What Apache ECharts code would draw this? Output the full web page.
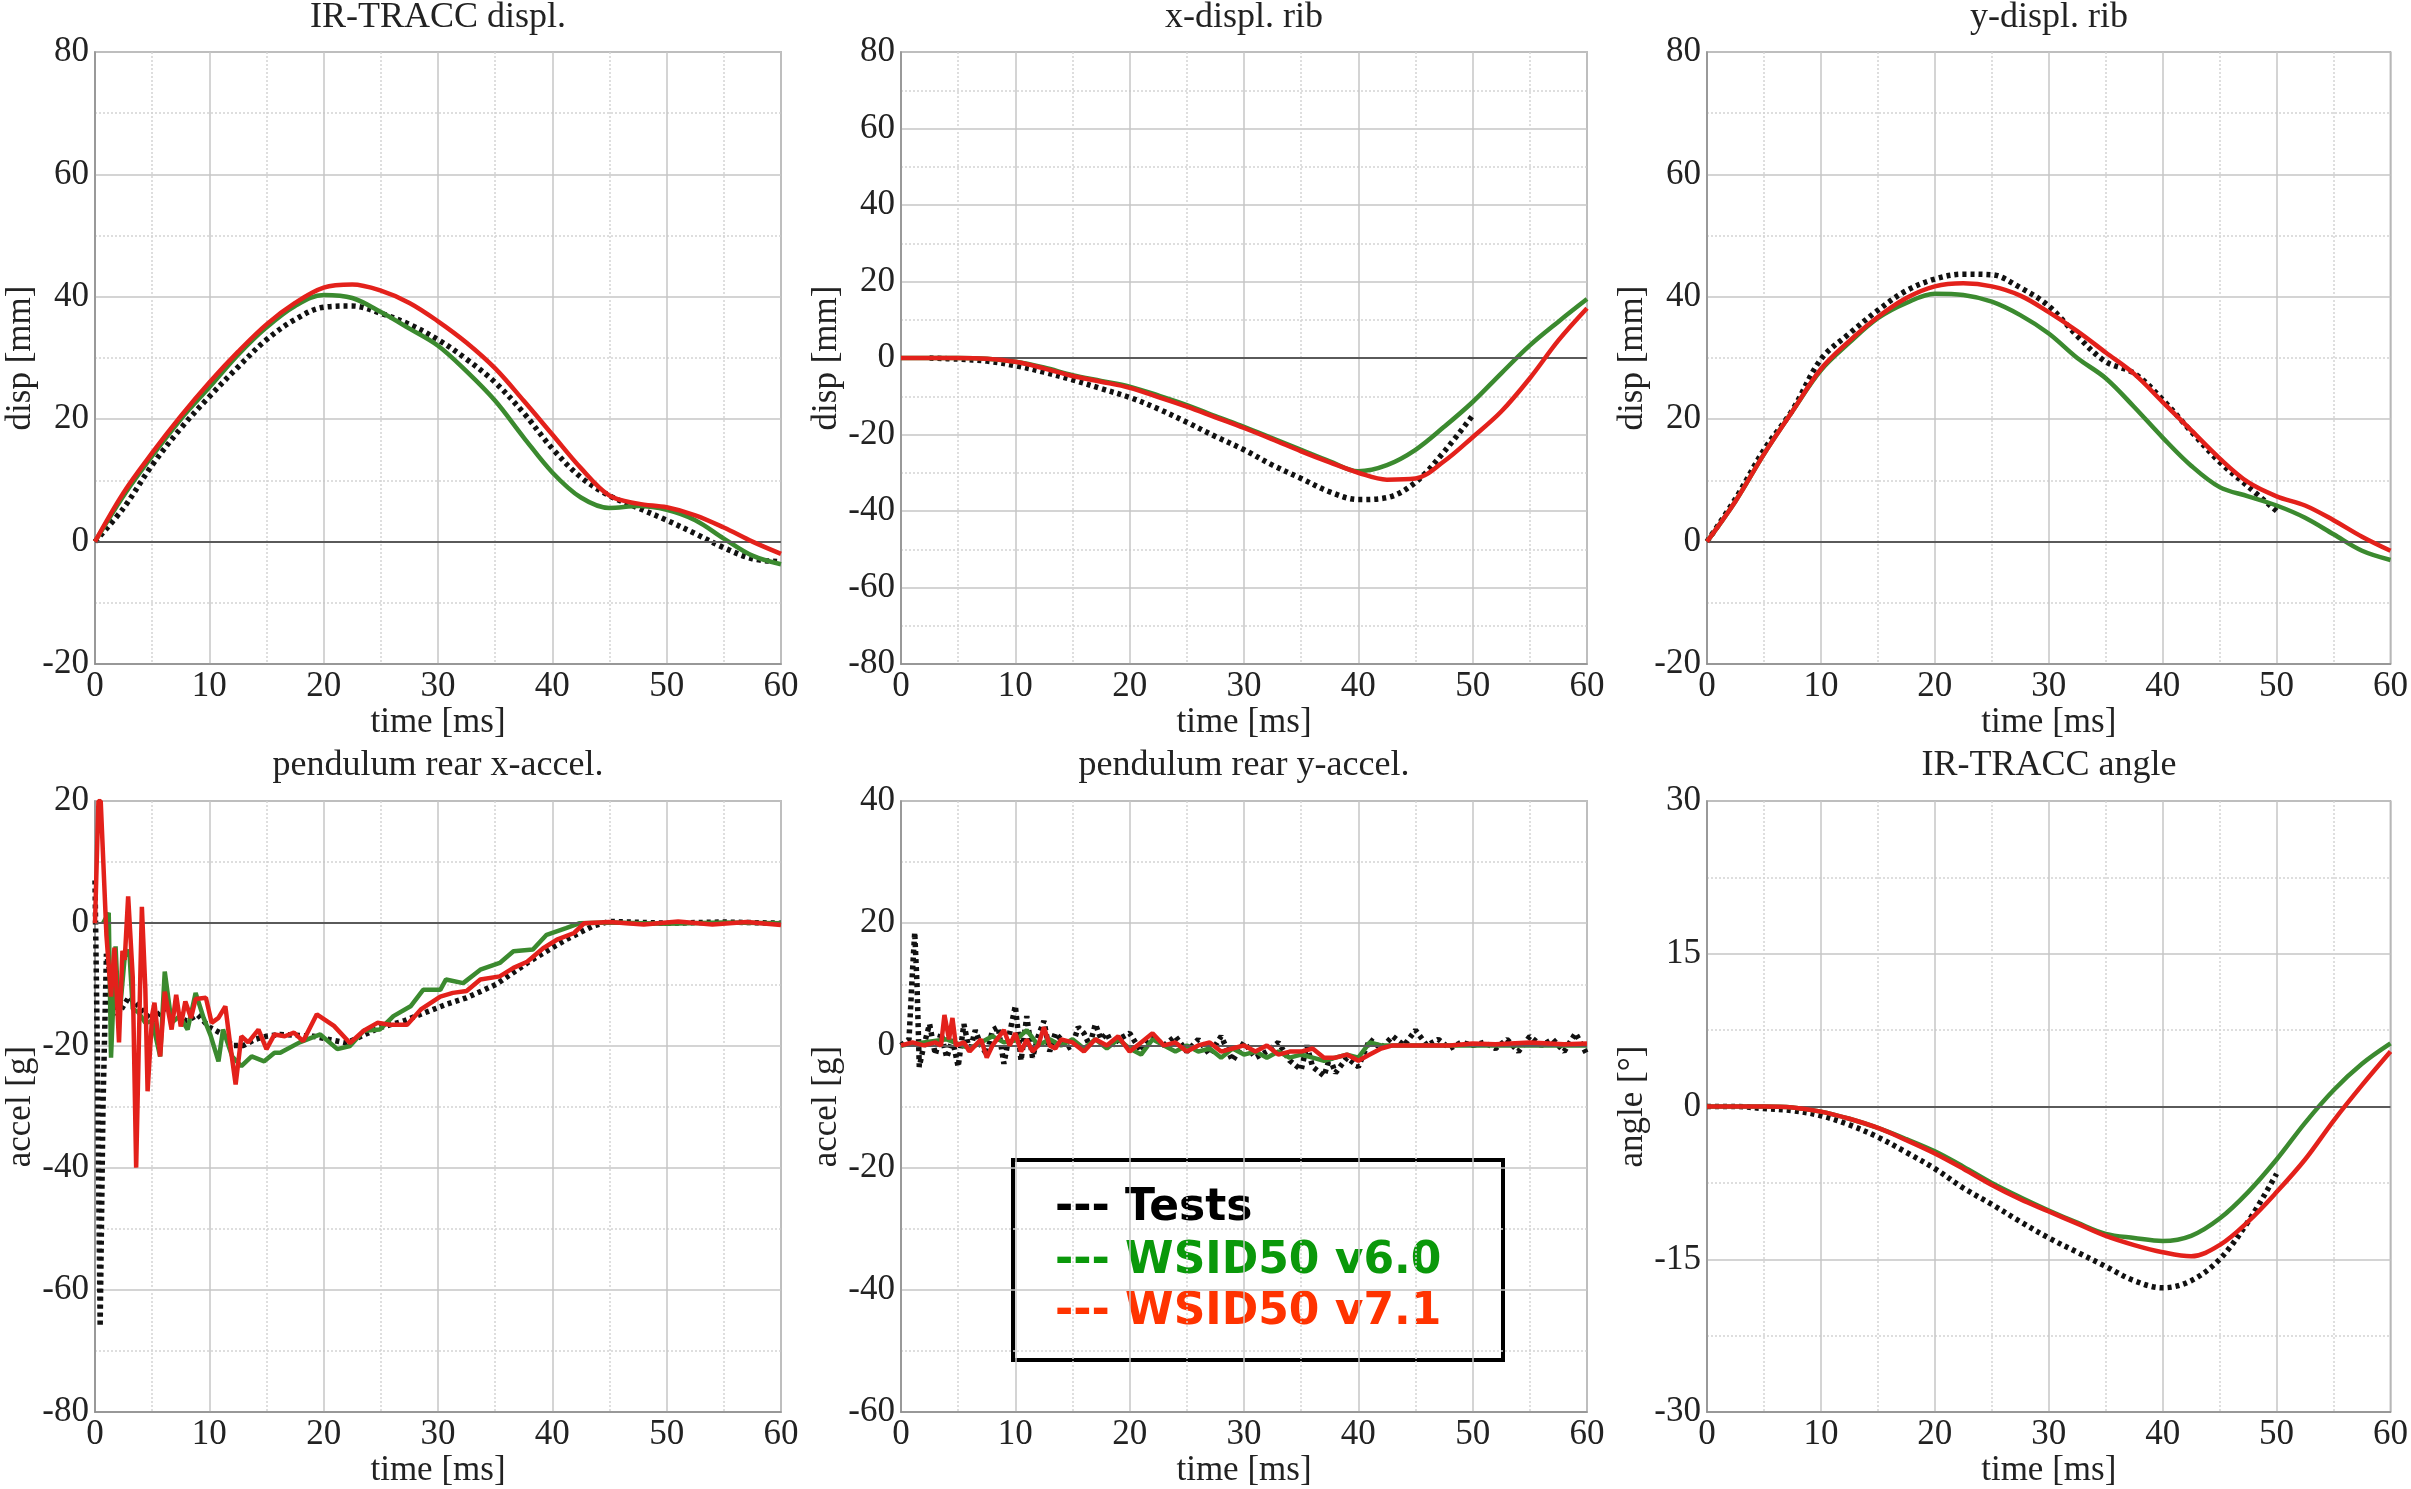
<!DOCTYPE html>
<html><head><meta charset="utf-8">
<script src="https://cdn.jsdelivr.net/npm/echarts@6/dist/echarts.min.js"></script>
<style>html,body{margin:0;padding:0;background:#fff}#c{width:2411px;height:1489px}</style>
</head><body><div id="c"></div>
<script>
// ---------- DATA ----------
const panelTitles = ['IR-TRACC displ.', 'x-displ. rib', 'y-displ. rib', 'pendulum rear x-accel.', 'pendulum rear y-accel.', 'IR-TRACC angle'];
const yNames = ['disp [mm]', 'disp [mm]', 'disp [mm]', 'accel [g]', 'accel [g]', 'angle [°]'];
const xName = 'time [ms]';
const seriesNames = ['Tests', 'WSID50 v6.0', 'WSID50 v7.1'];

// sample times (ms) for the smooth curves
const T = [0,2.5,5,7.5,10,12.5,15,17.5,20,22.5,25,27.5,30,32.5,35,37.5,40,42.5,45,47.5,50,52.5,55,57.5,60];

// IR-TRACC displ.
const irdTest  = [0,5.5,12.5,18.5,23.7,28.5,33,36.3,38.3,38.5,37.3,35.5,33,29.8,26,21,15.2,10.5,7.5,5.5,3.5,1.3,-1,-2.8,-3.3];
const irdGreen = [0,7.5,14,20,25.2,30.5,35,38.5,40.3,39.8,37.5,34.8,32,27.8,23,17,11.3,7.2,5.5,5.8,5.2,3.5,0.5,-2.3,-3.7];
const irdRed   = [0,8,14.5,20.5,26,31,35.5,39,41.5,42,41,39,36,32.5,28.3,23,17.5,12,7.5,6.2,5.6,4.3,2.3,0,-2];

// x-displ. rib (tests from 2.5 to 50 ms)
const xrTestT  = [2.5,5,7.5,10,12.5,15,17.5,20,22.5,25,27.5,30,32.5,35,37.5,40,42.5,45,47.5,50];
const xrTest   = [0,-0.3,-0.8,-2,-3.7,-5.7,-8,-10.3,-13.3,-16.8,-20.5,-24,-28,-31.5,-35,-37,-36.5,-32.5,-24.5,-15];
const xrGreen  = [0,0,0,-0.2,-1,-2.5,-4.5,-6,-7.5,-9.8,-12.3,-15.2,-18,-21,-24,-27,-29.6,-28,-24,-18,-11.5,-4,3.3,9.5,15.4];
const xrRed    = [0,0,0,-0.2,-1,-2.7,-4.7,-6.2,-7.8,-10.2,-12.7,-15.5,-18.3,-21.3,-24.4,-27.3,-30,-31.8,-31.5,-27,-20.7,-14,-5.3,4.6,13];

// y-displ. rib (tests 0 to 50 ms)
const yrTest   = [0,7,15,21.5,29.8,34,37.8,41,42.9,43.7,43.6,41.5,38.5,33.6,29.4,27.5,23.2,18,13,9,5];
const yrGreen  = [0,6.6,14.3,21.3,28,32.5,36.5,39,40.5,40.3,39.2,37,34,30,26.7,22,17,12.4,8.9,7.4,5.9,3.9,1.2,-1.5,-3];
const yrRed    = [0,6.6,14.3,21.3,28.2,32.8,36.7,39.8,41.7,42.2,41.7,40.2,37.5,34.4,30.9,27.4,22.8,18.2,13.6,9.7,7.4,5.9,3.5,0.8,-1.5];

// pendulum rear x-accel. [time, g]
const xaTest = [[0,7],[0.2,-20],[0.45,-66],[0.7,-30],[1.0,-5],[1.5,-10],[2,-15],[3,-12],[4,-14],[5,-16],[6,-14],[7,-15],[8,-16],[9,-15],[10,-17],[11,-18],[12,-20],[13,-20],[14,-19],[15,-18.5],[16.2,-18.2],[19.1,-18.5],[22,-19.6],[24.9,-17.1],[27,-16],[28.5,-14.9],[30.7,-13.3],[32.5,-12.2],[35.1,-10],[37.8,-6.5],[39.2,-4.9],[41.2,-2.7],[43.5,-0.5],[45,0.3],[50,0],[55,0.2],[60,0]];
const xaGreen = [[0.7,0],[1.2,1.7],[1.4,-22],[1.8,-3.8],[2.1,-16],[2.6,-5.5],[3.0,-4.4],[3.3,-14],[3.8,-14.6],[4.4,-16.3],[5.0,-16],[5.7,-21.8],[6.1,-7.9],[6.7,-16.3],[7.4,-15.2],[8.1,-17.4],[8.8,-11.4],[9.5,-15.5],[10.1,-18.3],[10.8,-22.6],[11.2,-17.4],[12.0,-21.8],[12.8,-23.4],[13.7,-21.8],[14.8,-22.6],[15.7,-21.2],[16.2,-21.2],[17.9,-19.5],[19.7,-18.2],[21.2,-20.6],[22.3,-20.1],[23.5,-17.6],[24.9,-17.4],[26.1,-15.2],[27.6,-13.6],[28.7,-10.9],[30.2,-10.9],[30.7,-9.2],[32.2,-9.8],[33.7,-7.6],[35.4,-6.5],[36.6,-4.6],[38.3,-4.3],[39.5,-1.9],[41.2,-0.8],[42.4,0],[45,0.1],[50,-0.1],[55,0.1],[60,0]];
const xaRed = [[0,0],[0.3,20],[0.5,20],[1.0,-2],[1.4,-12],[1.7,-4],[2.1,-19.5],[2.4,-4.5],[2.6,-6],[2.9,4.4],[3.3,-8.8],[3.6,-40],[3.9,-14],[4.1,2.7],[4.4,-10.6],[4.6,-27.5],[5.0,-15],[5.2,-13],[5.7,-21.8],[6.1,-11.2],[6.7,-17.4],[7.1,-11.7],[7.5,-16.9],[7.9,-12.8],[8.4,-15.5],[8.8,-12.4],[9.7,-12.2],[10.2,-16.3],[10.8,-15.5],[11.4,-13.6],[11.8,-19.5],[12.3,-26.4],[12.8,-18.5],[13.4,-19.5],[14.3,-17.4],[15.0,-20.6],[15.7,-18.2],[16.6,-18.5],[17.4,-17.9],[18.2,-19.3],[19.4,-14.9],[20.9,-16.8],[22.3,-19.6],[23.5,-17.6],[24.7,-16.3],[25.8,-16.6],[27.3,-16.6],[28.5,-14.1],[30.2,-12],[31.3,-11.4],[32.5,-11.1],[33.7,-9.2],[35.4,-8.7],[36.6,-7.3],[37.8,-6.3],[39.2,-4.1],[40.4,-2.7],[41.9,-1.6],[42.8,0],[45,0.2],[48,-0.2],[51,0.3],[54,-0.2],[57,0.2],[60,-0.3]];

// pendulum rear y-accel. [time, g]
const yaTest = [[0,0],[0.7,1],[1.0,12],[1.2,18.5],[1.4,10],[1.6,-3.5],[2,0],[2.5,3.5],[3,-1.5],[3.5,2],[4,-2],[4.5,1],[5,-3.5],[5.5,3.5],[6,-1],[6.5,2.5],[7,0],[7.5,-1.5],[8,2.5],[8.5,3],[9,-3],[9.5,2],[10,6.5],[10.5,-2.5],[11,4.8],[11.5,-2],[12,1.5],[12.5,4],[13,-1],[13.5,2],[14,1],[14.5,-0.5],[15,0],[15.5,3],[16,2],[16.5,0],[17,3.5],[17.5,1],[18,2],[18.5,0],[19,1],[20,2],[21,-1],[22,1.5],[23,0],[24,1.5],[25,-1],[26,1],[27,-1.5],[28,1.5],[29,-2.5],[30,0.5],[31,-2],[32,-1],[33,0.5],[34,-2.5],[35,-4],[35.5,0],[36,-3.5],[37,-5],[37.5,-2],[38,-4.5],[39,-2],[40,-3.5],[41,1],[42,-0.5],[43,1.5],[44,0],[45,2.5],[46,0],[47,1],[48,-0.5],[49,0.5],[50,0],[51,0.5],[52,-0.5],[53,1],[54,-1],[55,1.5],[56,0],[57,1],[58,-1],[59,2],[60,-1.5]];
const yaGreen = [[0,0],[2,0.5],[4,1],[6,-0.5],[8,1.5],[9,0.5],[10,0.8],[11,2.5],[12,0],[13,1],[14,0],[15,1],[16,-0.5],[17,1],[18,-0.5],[19,1],[20,-0.5],[21,-1.5],[22,1],[23,0],[24,-1],[25,0],[26,-1],[27,-0.5],[28,-2],[29,-0.5],[30,-1.5],[31,-1],[32,-2],[33,-1],[34,-2],[35,-1.5],[36,-2],[37,-2.5],[38,-2],[39,-1.5],[40,-2],[41,0.5],[42,0],[44,0],[46,0],[50,0],[55,0],[60,0]];
const yaRed = [[0,0],[1,0.5],[2,0],[3,0.5],[3.5,0],[3.8,5],[4.2,1],[4.5,4.5],[4.8,0],[5.5,0.5],[6,-1],[7,1],[7.5,-2],[8,0],[9,2.5],[9.5,0],[10,2],[10.5,-1],[11,1],[11.5,-1],[12,0],[12.5,3],[13,0],[13.5,-0.5],[14,1],[15,0.5],[16,-1],[17,1],[18,0],[19,1.5],[20,-1],[21,0.5],[22,2],[23,0],[24,0.5],[25,-1],[26,0],[27,0.5],[28,-1],[29,-0.5],[30,0],[31,-1],[32,0],[33,-1.5],[34,-1],[35,-1],[36,-0.5],[37,-2],[38,-2],[39,-1.5],[40,-2.5],[41,-1.5],[42,-0.5],[43,0],[45,0],[48,0],[50,0.3],[52,0.2],[55,0.5],[58,0.2],[60,0.3]];

// IR-TRACC angle (tests 0 to 50 ms)
const angTest  = [0,0,-0.2,-0.4,-0.9,-1.8,-3,-4.5,-6.1,-8,-9.6,-11.3,-12.9,-14.3,-15.7,-17.1,-17.8,-17.1,-15,-11.3,-6.6];
const angGreen = [0,0,0,-0.1,-0.5,-1.2,-2.1,-3.2,-4.4,-5.9,-7.5,-8.9,-10.2,-11.4,-12.5,-12.9,-13.2,-12.7,-11,-8.4,-5.2,-1.6,1.6,4.2,6.2];
const angRed   = [0,0,0,-0.1,-0.5,-1.2,-2.1,-3.3,-4.6,-6.1,-7.7,-9.1,-10.3,-11.5,-12.7,-13.6,-14.3,-14.7,-13.6,-11.3,-8.4,-5.2,-1.4,2.1,5.4];

// axis ranges [min, max, interval]
const yRanges = [[-20,80,20],[-80,80,20],[-20,80,20],[-80,20,20],[-60,40,20],[-30,30,15]];

// ---------- BUILD ----------
const zip = (t, v) => v.map((y, i) => [t[i], y]);
const panelData = [
  [zip(T, irdTest), zip(T, irdGreen), zip(T, irdRed)],
  [zip(xrTestT, xrTest), zip(T, xrGreen), zip(T, xrRed)],
  [zip(T, yrTest), zip(T, yrGreen), zip(T, yrRed)],
  [xaTest, xaGreen, xaRed],
  [yaTest, yaGreen, yaRed],
  [zip(T, angTest), zip(T, angGreen), zip(T, angRed)]
];
const smoothFlags = [true, true, true, false, false, true];

const SERIF = '"Liberation Serif", "DejaVu Serif", serif';
const TXT = '#222';
const colors = ['#111111', '#3b8a2f', '#e3211b'];

const gridPos = [
  {left:95, top:52}, {left:901, top:52}, {left:1707, top:52},
  {left:95, top:801}, {left:901, top:801}, {left:1707, top:801}
];
const grids = [], xAxes = [], yAxes = [], series = [], titles = [];
gridPos.forEach((g, i) => {
  const w = (i % 3 === 2) ? 684 : 686;
  grids.push({left:g.left, top:g.top, width:w, height:612, show:true, borderColor:'#8c8c8c', borderWidth:1.5, containLabel:false});
  titles.push({text: panelTitles[i], left: g.left + w/2, top: i < 3 ? 0 : 748, textAlign:'center', padding:0,
    textStyle:{fontFamily:SERIF, fontSize:36, fontWeight:'normal', color:TXT}});
  xAxes.push({gridIndex:i, type:'value', min:0, max:60, interval:10,
    axisLine:{show:true, onZero:false, lineStyle:{color:'#8c8c8c', width:1.5}},
    axisTick:{show:false},
    axisLabel:{margin:5, fontFamily:SERIF, fontSize:35, color:TXT},
    splitLine:{show:true, lineStyle:{color:'#c6c6c6', width:1.5}},
    minorTick:{show:false, splitNumber:2},
    minorSplitLine:{show:true, lineStyle:{color:'#d4d4d4', width:1.5, type:[2,2]}},
    name:xName, nameLocation:'middle', nameGap:40,
    nameTextStyle:{fontFamily:SERIF, fontSize:35, color:TXT}});
  const r = yRanges[i];
  yAxes.push({gridIndex:i, type:'value', min:r[0], max:r[1], interval:r[2],
    axisLine:{show:true, onZero:false, lineStyle:{color:'#8c8c8c', width:1.5}},
    axisTick:{show:false},
    axisLabel:{margin:6, fontFamily:SERIF, fontSize:35, color:TXT},
    splitLine:{show:true, lineStyle:{color:'#c6c6c6', width:1.5}},
    minorTick:{show:false, splitNumber:2},
    minorSplitLine:{show:true, lineStyle:{color:'#d4d4d4', width:1.5, type:[2,2]}},
    name:yNames[i], nameLocation:'middle', nameGap:56,
    nameTextStyle:{fontFamily:SERIF, fontSize:35, color:TXT}});
  // zero reference line
  series.push({type:'line', xAxisIndex:i, yAxisIndex:i, data:[], silent:true, z:1,
    markLine:{silent:true, symbol:'none', label:{show:false}, animation:false,
      lineStyle:{color:'#5a5a5a', width:1.8, type:'solid'}, data:[{yAxis:0}]}});
  panelData[i].forEach((d, k) => {
    series.push({name:seriesNames[k], type:'line', xAxisIndex:i, yAxisIndex:i, data:d,
      symbol:'none', showSymbol:false, smooth: smoothFlags[i] ? 0.35 : false, clip:true,
      z: 3 + k,
      lineStyle: k === 0 ? {color:colors[0], width:5.5, type:[4,4]} : {color:colors[k], width:4.5, type:'solid'}});
  });
});

const legendFont = 'bold 44px "DejaVu Sans", Verdana, sans-serif';
const option = {
  backgroundColor:'#ffffff',
  animation:false,
  title: titles,
  grid: grids, xAxis: xAxes, yAxis: yAxes, series: series,
  graphic: [{
    type:'group', left:1011, top:1158, z:100,
    children:[
      {type:'rect', shape:{x:0, y:0, width:490, height:200}, style:{fill:'#fff', stroke:'#000', lineWidth:4}},
      {type:'text', x:42, y:49, style:{text:'--- ' + seriesNames[0], font:legendFont, fill:'#000', verticalAlign:'middle'}},
      {type:'text', x:42, y:102, style:{text:'--- ' + seriesNames[1], font:legendFont, fill:'#0a980a', verticalAlign:'middle'}},
      {type:'text', x:42, y:153, style:{text:'--- ' + seriesNames[2], font:legendFont, fill:'#ff3300', verticalAlign:'middle'}}
    ]
  }]
};
const chart = echarts.init(document.getElementById('c'), null, {renderer:'canvas'});
chart.setOption(option);
</script></body></html>
